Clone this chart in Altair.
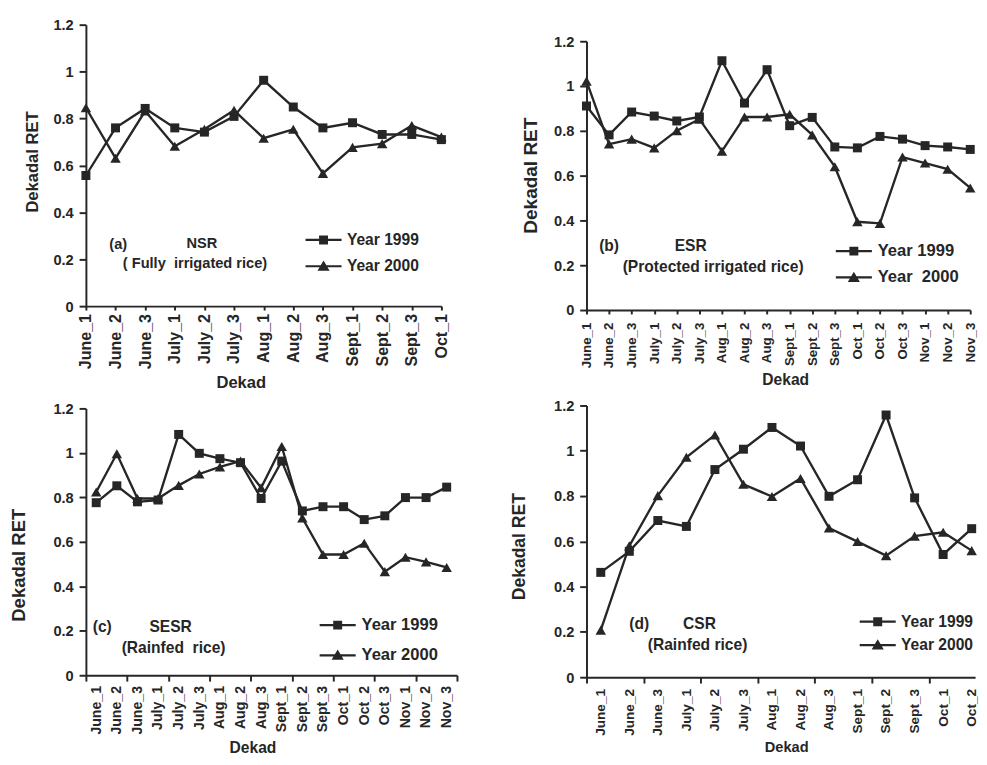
import json
import altair as alt
import pandas as pd

FONT = "Liberation Sans"
INK = "#262626"
NB = "\u00a0"

# ---------------- data ----------------
cats_a = ["June_1", "June_2", "June_3", "July_1", "July_2", "July_3", "Aug_1",
          "Aug_2", "Aug_3", "Sept_1", "Sept_2", "Sept_3", "Oct_1"]
nsr_1999 = [0.557, 0.76, 0.843, 0.76, 0.742, 0.809, 0.963, 0.849, 0.76, 0.782, 0.732, 0.732, 0.71]
nsr_2000 = [0.846, 0.631, 0.832, 0.682, 0.754, 0.835, 0.716, 0.754, 0.566, 0.677, 0.693, 0.77, 0.721]

cats_b = ["June_1", "June_2", "June_3", "July_1", "July_2", "July_3", "Aug_1",
          "Aug_2", "Aug_3", "Sept_1", "Sept_2", "Sept_3", "Oct_1", "Oct_2",
          "Oct_3", "Nov_1", "Nov_2", "Nov_3"]
esr_1999 = [0.911, 0.782, 0.884, 0.866, 0.844, 0.862, 1.113, 0.924, 1.073, 0.823, 0.86,
            0.728, 0.724, 0.775, 0.763, 0.734, 0.728, 0.717]
esr_2000 = [1.022, 0.741, 0.763, 0.724, 0.801, 0.852, 0.709, 0.862, 0.862, 0.874, 0.782,
            0.64, 0.394, 0.387, 0.683, 0.656, 0.629, 0.545]

cats_c = ["June_1", "June_2", "June_3", "July_1", "July_2", "July_3", "Aug_1",
          "Aug_2", "Aug_3", "Sept_1", "Sept_2", "Sept_3", "Oct_1", "Oct_2",
          "Oct_3", "Nov_1", "Nov_2", "Nov_3"]
sesr_1999 = [0.776, 0.852, 0.78, 0.788, 1.083, 0.998, 0.974, 0.956, 0.795, 0.963, 0.739,
             0.758, 0.758, 0.70, 0.717, 0.799, 0.799, 0.846]
sesr_2000 = [0.824, 0.996, 0.795, 0.795, 0.854, 0.905, 0.937, 0.963, 0.843, 1.029, 0.707,
             0.543, 0.543, 0.594, 0.466, 0.531, 0.51, 0.485]

cats_d = ["June_1", "June_2", "June_3", "July_1", "July_2", "July_3", "Aug_1",
          "Aug_2", "Aug_3", "Sept_1", "Sept_2", "Sept_3", "Oct_1", "Oct_2"]
csr_1999 = [0.463, 0.556, 0.692, 0.666, 0.917, 1.007, 1.103, 1.021, 0.799, 0.872, 1.158,
            0.792, 0.542, 0.656]
csr_2000 = [0.208, 0.58, 0.802, 0.971, 1.07, 0.852, 0.798, 0.878, 0.659, 0.599, 0.537,
            0.623, 0.64, 0.559]

y_ticks = [0, 0.2, 0.4, 0.6, 0.8, 1, 1.2]

SQ_PATH = ("M-2.5,-0.15L2.5,-0.15L2.5,0.15L-2.5,0.15Z "
           "M-0.62,-0.62L0.62,-0.62L0.62,0.62L-0.62,0.62Z")
TRI_PATH = ("M-2.5,-0.15L2.5,-0.15L2.5,0.15L-2.5,0.15Z "
            "M0,-0.8L0.84,0.62L-0.84,0.62Z")


def panel(cats, v99, v00, names, centered, x_max, width, height, y_top,
          x_tick, x_lab_pad, x_lab_size,
          yt_size, yt_x, yt_y, xt_size, xt_x, xt_y,
          notes, leg):
    off = 0.5 if centered else 0.0
    rows = []
    for i, c in enumerate(cats):
        rows.append({"x": i + off, "dekad": c, "series": names[0], "ret": v99[i]})
    for i, c in enumerate(cats):
        rows.append({"x": i + off, "dekad": c, "series": names[1], "ret": v00[i]})
    df = pd.DataFrame(rows)

    arr = json.dumps(cats)
    if centered:
        vals = [k / 2 for k in range(0, int(x_max * 2) + 1)]
        label_expr = f"datum.value % 1 == 0.5 ? {arr}[floor(datum.value)] : ''"
        tick_op = {"condition": {"test": "datum.value % 2 == 0", "value": 1}, "value": 0}
    else:
        vals = list(range(len(cats)))
        label_expr = f"{arr}[datum.value]"
        tick_op = 1

    x_enc = alt.X(
        "x:Q",
        scale=alt.Scale(domain=[0, x_max], range=[0, width], nice=False, zero=False),
        axis=alt.Axis(
            values=vals, labelExpr=label_expr, labelAngle=270,
            labelAlign="right", labelBaseline="middle",
            labelFont=FONT, labelFontSize=x_lab_size, labelFontWeight="bold",
            labelColor=INK, labelPadding=x_lab_pad, labelOverlap=False,
            labelFlush=False, tickSize=x_tick, tickWidth=2, tickColor=INK,
            tickOpacity=tick_op, domainColor=INK, domainWidth=2, grid=False,
            title="Dekad", titleFont=FONT, titleFontSize=xt_size,
            titleFontWeight="bold", titleColor=INK, titleX=xt_x, titleY=xt_y,
            titleBaseline="alphabetic", titleAlign="center",
        ),
    )
    y_enc = alt.Y(
        "ret:Q",
        scale=alt.Scale(domain=[0, 1.2], range=[height, y_top], nice=False, zero=False),
        axis=alt.Axis(
            values=y_ticks, format="~g", labelFont=FONT, labelFontSize=15,
            labelFontWeight="bold", labelColor=INK, labelPadding=6,
            tickSize=7, tickWidth=2, tickColor=INK, domainColor=INK,
            domainWidth=2, grid=False,
            title="Dekadal RET", titleFont=FONT, titleFontSize=yt_size,
            titleFontWeight="bold", titleColor=INK, titleX=yt_x, titleY=yt_y,
            titleBaseline="middle", titleAlign="center", titleAngle=270,
        ),
    )

    base = alt.Chart(df)
    line = base.mark_line(color=INK, strokeWidth=2.4).encode(
        x=x_enc, y=y_enc, detail="series:N", order="x:Q")
    sq = base.transform_filter(alt.datum.series == names[0]).mark_point(
        shape="square", filled=True, size=85, color=INK, opacity=1).encode(x=x_enc, y=y_enc)
    tri = base.transform_filter(alt.datum.series == names[1]).mark_point(
        shape="triangle-up", filled=True, size=115, color=INK, opacity=1).encode(x=x_enc, y=y_enc)
    lg = base.transform_filter("false").mark_point(
        filled=True, color=INK, opacity=1).encode(
        x=x_enc, y=y_enc,
        shape=alt.Shape(
            "series:N",
            scale=alt.Scale(domain=list(names), range=[SQ_PATH, TRI_PATH]),
            legend=alt.Legend(
                orient="none", legendX=leg["x"], legendY=leg["y"], title=None,
                labelFont=FONT, labelFontSize=leg["fs"], labelFontWeight="bold",
                labelColor=INK, symbolSize=219, symbolStrokeWidth=0,
                symbolFillColor=INK, symbolOpacity=1, rowPadding=leg["rp"],
                labelOffset=16, padding=0, labelLimit=0,
            ),
        ),
    )
    texts = []
    for (txt, align, tx, ty, fs) in notes:
        texts.append(
            alt.Chart(pd.DataFrame({"t": [txt]})).mark_text(
                align=align, baseline="middle", font=FONT, fontWeight="bold",
                fontSize=fs, color=INK,
            ).encode(text="t:N", x=alt.value(tx), y=alt.value(ty))
        )
    return alt.layer(line, sq, tri, lg, *texts).properties(width=width, height=height)


pa = panel(cats_a, nsr_1999, nsr_2000, ("Year 1999", "Year 2000"), False, 12,
           365, 296, 7, 4, 3.5, 16.5, 17, -54.5, 147.5, 17, 159, 84,
           [("(a)", "left", 24, 232, 15), ("NSR", "center", 119, 231, 15),
            ("( Fully" + NB + " irrigated rice)", "center", 112, 252, 15)],
           {"x": 236, "y": 220, "fs": 16, "rp": 11})
pb = panel(cats_b, esr_1999, esr_2000, ("Year 1999", "Year" + NB + " 2000"), False, 17,
           394, 300, 24, 4, 8.5, 13.6, 19.5, -57, 161.5, 16, 204, 76,
           [("(b)", "left", 13, 234, 16), ("ESR", "center", 107, 234, 16),
            ("(Protected irrigated rice)", "center", 130, 256, 16)],
           {"x": 266, "y": 231, "fs": 17, "rp": 9})
pc = panel(cats_c, sesr_1999, sesr_2000, ("Year 1999", "Year 2000"), True, 18,
           381, 277, 3, 6, 4.5, 14.5, 19, -69.5, 163.5, 16, 171, 79,
           [("(c)", "left", 7, 228, 16), ("SESR", "center", 87, 228, 16),
            ("(Rainfed" + NB + " rice)", "center", 90, 249, 16)],
           {"x": 250, "y": 217, "fs": 17, "rp": 13})
pd_ = panel(cats_d, csr_1999, csr_2000, ("Year 1999", "Year 2000"), True, 13.62,
            399, 279, 0, 6, 5.5, 14, 18, -68.5, 144.5, 15, 205, 76,
            [("(d)", "left", 44, 225, 16), ("CSR", "center", 116, 225, 16),
             ("(Rainfed rice)", "center", 114, 246, 16)],
            {"x": 291, "y": 214, "fs": 16, "rp": 8})

chart = alt.concat(
    pa, pb, pc, pd_, columns=2, spacing={"row": 98, "column": 115},
    bounds="flush", align="all"
).resolve_scale(
    x="independent", y="independent", shape="independent"
).configure_view(stroke=None).properties(
    padding={"left": 1, "top": 0, "right": 0, "bottom": 0}, background="white"
)

chart.save("out.html", embed_options={"renderer": "svg", "actions": False})
